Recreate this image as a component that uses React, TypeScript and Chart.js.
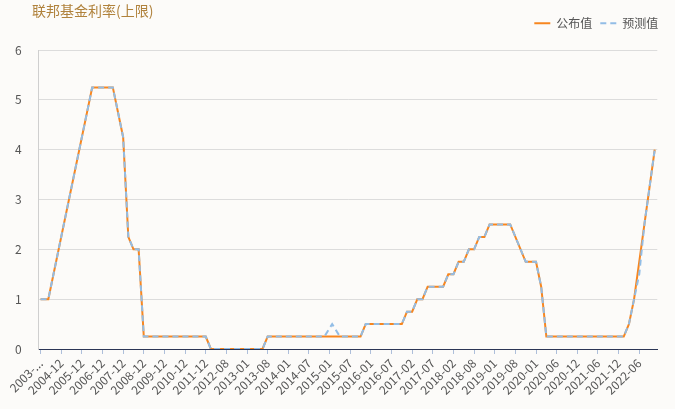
import React, { useEffect, useRef } from 'react';
import { Chart, registerables } from 'chart.js';

Chart.register(...registerables);

// ---- data ----
const chartTitle = '联邦基金利率(上限)';
const seriesNames = ['公布值', '预测值'];
const tickLabels = [
  '2003-...', '2004-12', '2005-12', '2006-12', '2007-12', '2008-12', '2009-12', '2010-12',
  '2011-12', '2012-08', '2013-01', '2013-08', '2014-01', '2014-07', '2015-01', '2015-07',
  '2016-01', '2016-07', '2017-02', '2017-07', '2018-02', '2018-08', '2019-01', '2019-08',
  '2020-01', '2020-06', '2020-12', '2021-06', '2021-12', '2022-06',
];
const pointsPerLabel = 8; // categories between two shown labels
const categoryCount = 240;

// published value: category index -> rate (%)
const publishedIdx = [0, 3, 4, 20, 28, 32, 34, 36, 38, 40, 64, 66, 86, 88, 124, 126, 140, 142, 144, 146, 148, 150, 156, 158, 160, 162, 164, 166, 168, 170, 172, 174, 182, 188, 192, 194, 196, 226, 228, 230, 232, 234, 236, 238];
const publishedVal = [1.0, 1.0, 1.25, 5.25, 5.25, 4.25, 2.25, 2.0, 2.0, 0.25, 0.25, 0, 0, 0.25, 0.25, 0.5, 0.5, 0.75, 0.75, 1.0, 1.0, 1.25, 1.25, 1.5, 1.5, 1.75, 1.75, 2.0, 2.0, 2.25, 2.25, 2.5, 2.5, 1.75, 1.75, 1.25, 0.25, 0.25, 0.5, 1.0, 1.75, 2.5, 3.25, 4.0];

// forecast value: category index -> rate (%)
const forecastIdx = [0, 3, 4, 20, 28, 32, 34, 36, 38, 40, 64, 66, 86, 88, 110, 113, 116, 124, 126, 140, 142, 144, 146, 148, 150, 156, 158, 160, 162, 164, 166, 168, 170, 172, 174, 182, 188, 192, 194, 196, 226, 228, 230, 232, 234, 236, 238];
const forecastVal = [1.0, 1.0, 1.25, 5.25, 5.25, 4.25, 2.25, 2.0, 2.0, 0.25, 0.25, 0, 0, 0.25, 0.25, 0.5, 0.25, 0.25, 0.5, 0.5, 0.75, 0.75, 1.0, 1.0, 1.25, 1.25, 1.5, 1.5, 1.75, 1.75, 2.0, 2.0, 2.25, 2.25, 2.5, 2.5, 1.75, 1.75, 1.25, 0.25, 0.25, 0.5, 1.0, 1.5, 2.5, 3.25, 4.0];

const yMin = 0;
const yMax = 6;
const yStep = 1;

const FONT = '"Noto Sans CJK SC", "Noto Sans", sans-serif';
const BG = '#fcfbf9';

const bgPlugin = {
  id: 'bgFill',
  beforeDraw(chart: any) {
    const { ctx, width, height } = chart;
    ctx.save();
    ctx.fillStyle = BG;
    ctx.fillRect(0, 0, width, height);
    ctx.restore();
  },
};

export default function App() {
  const ref = useRef<HTMLCanvasElement | null>(null);

  useEffect(() => {
    document.body.style.margin = '0';
    document.body.style.background = BG;
    if (!ref.current) return;
    const defaultLabels = (Chart.defaults as any).plugins.legend.labels.generateLabels;
    const chart = new Chart(ref.current, {
      type: 'line',
      data: {
        datasets: [
          {
            label: seriesNames[0],
            data: publishedIdx.map((x, i) => ({ x, y: publishedVal[i] })),
            borderColor: '#f7861f',
            backgroundColor: '#f7861f',
            borderWidth: 2,
            pointRadius: 0,
            tension: 0,
            order: 1,
          },
          {
            label: seriesNames[1],
            data: forecastIdx.map((x, i) => ({ x, y: forecastVal[i] })),
            borderColor: '#92bde6',
            backgroundColor: '#92bde6',
            borderWidth: 2,
            borderDash: [6, 4],
            pointRadius: 0,
            tension: 0,
            order: 0,
          },
        ],
      },
      options: {
        animation: false,
        responsive: false,
        devicePixelRatio: 1,
        layout: { padding: { left: 32, right: 8.7, top: 0, bottom: 0 } },
        font: { family: FONT },
        plugins: {
          tooltip: { enabled: false },
          title: {
            display: true,
            text: chartTitle,
            align: 'start',
            color: '#b0823c',
            font: { size: 14, weight: 'normal', family: FONT },
            padding: { top: 2, bottom: -9.5 },
          },
          legend: {
            display: true,
            position: 'top',
            align: 'end',
            labels: {
              usePointStyle: true,
              pointStyle: 'line',
              pointStyleWidth: 16,
              padding: 8,
              color: '#555',
              font: { size: 12, family: FONT },
              sort: (a: any, b: any) => a.datasetIndex - b.datasetIndex,
              generateLabels: (c: any) => {
                const items = defaultLabels(c);
                items.forEach((it: any) => {
                  const ds = c.data.datasets[it.datasetIndex];
                  it.lineDash = ds.borderDash || [];
                  it.lineWidth = ds.borderWidth;
                  it.strokeStyle = ds.borderColor;
                });
                return items;
              },
            },
          },
        },
        scales: {
          x: {
            type: 'linear',
            position: 'bottom',
            min: -1,
            max: categoryCount - 1,
            afterBuildTicks: (s: any) => {
              s.ticks = tickLabels.map((_, i) => ({ value: i * pointsPerLabel }));
            },
            afterFit: (s: any) => {
              s.height = 60;
            },
            grid: {
              display: true,
              drawOnChartArea: false,
              drawTicks: true,
              tickLength: 5,
              color: '#aebfda',
            },
            border: { display: true, color: '#2b3656', width: 1 },
            ticks: {
              autoSkip: false,
              minRotation: 45,
              maxRotation: 45,
              padding: 2,
              color: '#555',
              font: { size: 12, family: FONT },
              callback: (v: any) => {
                const k = Math.round(Number(v) / pointsPerLabel);
                return tickLabels[k] ?? '';
              },
            },
          },
          top: {
            type: 'linear',
            position: 'top',
            display: true,
            grid: { display: false },
            border: { display: false },
            ticks: { display: false },
            afterFit: (s: any) => {
              s.height = 10.7;
            },
          },
          y: {
            type: 'linear',
            position: 'left',
            min: yMin,
            max: yMax,
            afterFit: (s: any) => {
              s.width = 6;
            },
            grid: { color: '#dcdcdc', drawTicks: false },
            border: { display: true, color: '#cfcfcf' },
            ticks: {
              stepSize: yStep,
              mirror: true,
              crossAlign: 'near',
              padding: -23,
              color: '#555',
              font: { size: 12, family: FONT },
            },
          },
          right: {
            type: 'linear',
            position: 'right',
            display: true,
            grid: { display: false },
            border: { display: false },
            ticks: { display: false },
            afterFit: (s: any) => {
              s.width = 9;
            },
          },
        },
      } as any,
      plugins: [bgPlugin],
    });
    return () => chart.destroy();
  }, []);

  return (
    <div style={{ width: 675, height: 409 }}>
      <canvas ref={ref} width={675} height={409} style={{ display: 'block' }} />
    </div>
  );
}
